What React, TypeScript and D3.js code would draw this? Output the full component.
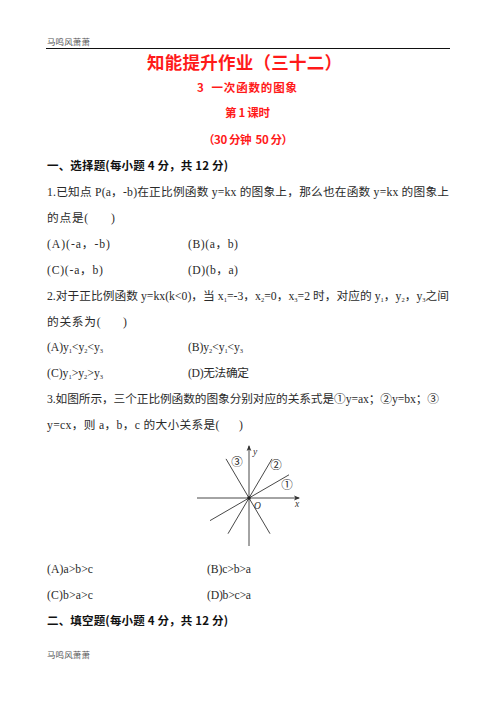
import * as d3 from "d3";
import type { ReactNode } from "react";

// three proportional functions y = kx shown in the figure
const lineNames = ["①", "②", "③"];
const slopes = [0.58, 1.7, -1.7];
const xFrom = [-39, -21, -23];
const xTo = [40, 23, 21];
const nameX = [38, 27, -12];
const nameY = [13, 33, 36];

const xAxisExtent = [-52, 50];
const yAxisExtent = [-48, 52];

const W = 496;
const H = 702;

const bodyFont = "'Liberation Serif', 'Noto Sans CJK SC', serif";
const boldFont = "'Noto Sans CJK SC', sans-serif";

interface TProps {
    x: number;
    y: number;
    end?: number;
    size?: number;
    bold?: boolean;
    fill?: string;
    anchor?: string;
    children: ReactNode;
}

function T({ x, y, end, size = 11.7, bold = false, fill = "#2a2a2a", anchor = "start", children }: TProps) {
    return (
        <text
            x={x}
            y={y}
            textLength={end ? end - x : undefined}
            lengthAdjust="spacing"
            fontFamily={bold ? boldFont : bodyFont}
            fontWeight={bold ? 700 : 400}
            fontSize={size}
            fill={fill}
            textAnchor={anchor}
        >
            {children}
        </text>
    );
}

const Sub = ({ n }: { n: string }) => (
    <tspan baselineShift={-2.2} fontSize={6.5}>{n}</tspan>
);

function Figure() {
    const x = d3.scaleLinear().domain(xAxisExtent).range([197, 299]);
    const y = d3.scaleLinear().domain(yAxisExtent).range([546, 446]);
    const line = d3
        .line<[number, number]>()
        .x((d) => x(d[0]))
        .y((d) => y(d[1]));

    return (
        <g>
            <defs>
                <marker id="arr" viewBox="0 0 6 6" refX="5" refY="3" markerWidth="6" markerHeight="6" markerUnits="userSpaceOnUse" orient="auto">
                    <path d="M0,0.6 L6,3 L0,5.4 L1.4,3 Z" fill="#333" />
                </marker>
            </defs>
            <line x1={x(xAxisExtent[0])} y1={y(0)} x2={x(xAxisExtent[1])} y2={y(0)} stroke="#333" strokeWidth={0.9} markerEnd="url(#arr)" />
            <line x1={x(0)} y1={y(yAxisExtent[0])} x2={x(0)} y2={y(yAxisExtent[1])} stroke="#333" strokeWidth={0.9} markerEnd="url(#arr)" />
            {slopes.map((k, i) => (
                <path
                    key={i}
                    d={line([
                        [xFrom[i], k * xFrom[i]],
                        [xTo[i], k * xTo[i]],
                    ]) || ""}
                    stroke="#333"
                    strokeWidth={0.9}
                    fill="none"
                />
            ))}
            <circle cx={x(0)} cy={y(0)} r={1.8} fill="#222" />
            {lineNames.map((n, i) => (
                <text key={n} x={x(nameX[i])} y={y(nameY[i]) + 4} fontSize={11.5} textAnchor="middle" fontFamily={boldFont} fill="#222">
                    {n}
                </text>
            ))}
            <text x={x(48)} y={y(0) + 8.5} fontSize={9.5} fontStyle="italic" fontFamily="'Liberation Serif', serif" textAnchor="middle" fill="#333">x</text>
            <text x={x(0) + 6} y={y(yAxisExtent[1]) + 9} fontSize={9.5} fontStyle="italic" fontFamily="'Liberation Serif', serif" textAnchor="middle" fill="#333">y</text>
            <text x={x(0) + 8.5} y={y(0) + 10.5} fontSize={9.5} fontStyle="italic" fontFamily="'Liberation Serif', serif" textAnchor="middle" fill="#333">O</text>
        </g>
    );
}

export default function App() {
    const red = "#ff1a1a";
    return (
        <svg width={W} height={H} viewBox={`0 0 ${W} ${H}`} style={{ position: "absolute", left: 0, top: 0, background: "#fff" }}>
            <rect width={W} height={H} fill="#fff" />
            <T x={47} y={44.6} end={90} size={8.5} fill="#555">马鸣风萧萧</T>
            <line x1={46} y1={48.5} x2={450} y2={48.5} stroke="#111" strokeWidth={1} />

            <T x={147} y={69} end={342} size={17.5} bold fill={red}>知能提升作业（三十二）</T>
            <T x={197} y={92.4} end={297} size={11.5} bold fill={red}>3{"\u00a0\u00a0"}一次函数的图象</T>
            <T x={225} y={117.4} end={270} size={11.5} bold fill={red}>第 1 课时</T>
            <T x={203} y={144.4} end={293} size={11.5} bold fill={red}>（30 分钟{"\u00a0\u00a0"}50 分）</T>

            <T x={47} y={170} end={228} size={11.5} bold fill="#111">一、选择题(每小题 4 分，共 12 分)</T>

            <T x={47} y={196.1} end={449}>1.已知点 P(a，-b)在正比例函数 y=kx 的图象上，那么也在函数 y=kx 的图象上</T>
            <T x={47} y={222.1} end={115}>的点是({"\u00a0\u00a0\u00a0\u00a0\u00a0\u00a0"})</T>
            <T x={47} y={247.7} end={110}>(A)(-a，-b)</T>
            <T x={188} y={247.7} end={238}>(B)(a，b)</T>
            <T x={47} y={273.7} end={103}>(C)(-a，b)</T>
            <T x={188} y={273.7} end={238}>(D)(b，a)</T>

            <T x={47} y={300.4} end={449}>
                2.对于正比例函数 y=kx(k{"<"}0)，当 x<Sub n="1" />=-3，x<Sub n="2" />=0，x<Sub n="3" />=2 时，对应的 y<Sub n="1" />，y<Sub n="2" />，y<Sub n="3" />之间
            </T>
            <T x={47} y={326.1} end={127}>的关系为({"\u00a0\u00a0\u00a0\u00a0\u00a0\u00a0"})</T>
            <T x={47} y={351.1} end={103}>(A)y<Sub n="1" />{"<"}y<Sub n="2" />{"<"}y<Sub n="3" /></T>
            <T x={188} y={351.1} end={243}>(B)y<Sub n="2" />{"<"}y<Sub n="1" />{"<"}y<Sub n="3" /></T>
            <T x={47} y={377.1} end={103}>(C)y<Sub n="1" />{">"}y<Sub n="2" />{">"}y<Sub n="3" /></T>
            <T x={188} y={377.1} end={249}>(D)无法确定</T>

            <T x={47} y={402.7} end={439}>3.如图所示，三个正比例函数的图象分别对应的关系式是①y=ax；②y=bx；③</T>
            <T x={47} y={428.7} end={243}>y=cx，则 a，b，c 的大小关系是({"\u00a0\u00a0\u00a0\u00a0\u00a0\u00a0"})</T>

            <Figure />

            <T x={47} y={572.7} end={93}>(A)a{">"}b{">"}c</T>
            <T x={207} y={572.7} end={251}>(B)c{">"}b{">"}a</T>
            <T x={47} y={598.7} end={93}>(C)b{">"}a{">"}c</T>
            <T x={207} y={598.7} end={251}>(D)b{">"}c{">"}a</T>

            <T x={47} y={625.4} end={228} size={11.5} bold fill="#111">二、填空题(每小题 4 分，共 12 分)</T>

            <T x={47} y={657.5} end={90} size={8.5} fill="#555">马鸣风萧萧</T>
        </svg>
    );
}
